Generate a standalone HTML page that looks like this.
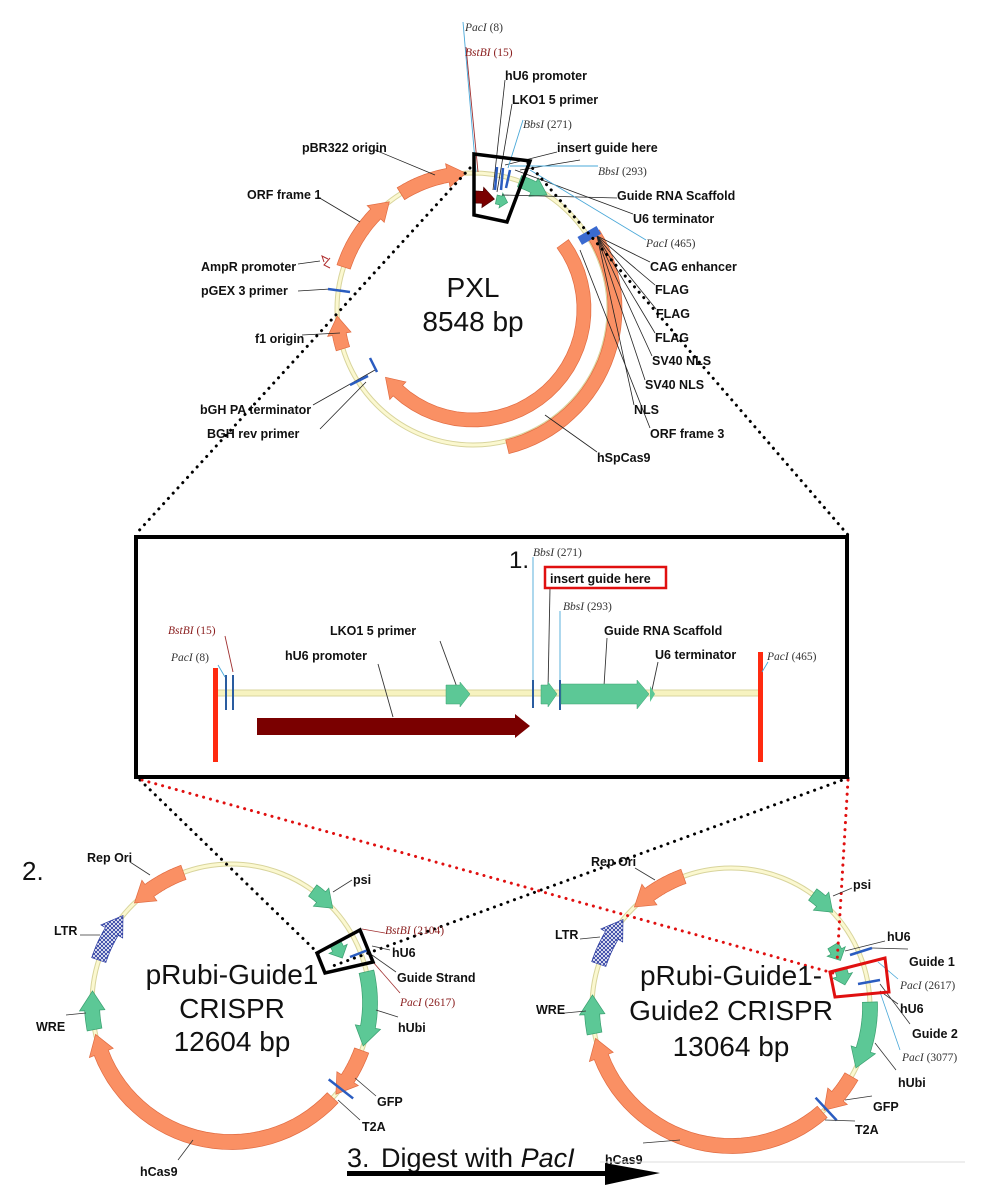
<!DOCTYPE html>
<html><head><meta charset="utf-8"><style>
html,body{margin:0;padding:0;background:#fff}
svg{display:block}
.b{font-family:"Liberation Sans",sans-serif;font-weight:bold;font-size:12.5px;fill:#111}
.e{font-family:"Liberation Serif",serif;font-size:11.5px;fill:#333}
.r{fill:#8b2020}
.big{font-family:"Liberation Sans",sans-serif;font-size:28px;fill:#111}
</style></head><body>
<svg id="s" width="995" height="1200" viewBox="0 0 995 1200" xmlns="http://www.w3.org/2000/svg">
<defs>
<pattern id="hatch" width="4" height="4" patternUnits="userSpaceOnUse">
<rect width="4" height="4" fill="#fff"/><path d="M0 0L4 4M4 0L0 4" stroke="#2a3aa0" stroke-width="0.9"/>
</pattern>
</defs>
<g id="shapes"></g>

<!-- PXL -->
<g stroke="#222" stroke-width="0.8" fill="none">
<line x1="375" y1="150" x2="435" y2="175"/><line x1="318" y1="197" x2="360" y2="222"/>
<line x1="298" y1="264" x2="320" y2="261"/><line x1="298" y1="291" x2="330" y2="289"/>
<line x1="302" y1="335" x2="340" y2="333"/><line x1="313" y1="405" x2="375" y2="370"/>
<line x1="320" y1="429" x2="366" y2="382"/>
<line x1="505" y1="80" x2="493" y2="190"/><line x1="512" y1="104" x2="497" y2="192"/>
<line x1="557" y1="152" x2="505" y2="165"/><line x1="617" y1="198" x2="502" y2="195"/>
<line x1="633" y1="214" x2="515" y2="170"/>
<line x1="597" y1="236" x2="650" y2="262"/><line x1="597" y1="236" x2="655" y2="285"/>
<line x1="597" y1="236" x2="656" y2="309"/><line x1="597" y1="236" x2="655" y2="333"/>
<line x1="597" y1="236" x2="652" y2="356"/><line x1="597" y1="236" x2="645" y2="380"/>
<line x1="597" y1="236" x2="634" y2="405"/><line x1="580" y1="250" x2="650" y2="428"/>
<line x1="597" y1="452" x2="545" y2="415"/><line x1="520" y1="170" x2="580" y2="160"/>
</g>
<g stroke="#4aa8d8" stroke-width="0.9"><line x1="463" y1="22" x2="476" y2="172"/><line x1="523" y1="120" x2="508" y2="168"/><line x1="598" y1="166" x2="510" y2="166"/><line x1="646" y1="240" x2="530" y2="170"/></g>
<line x1="466" y1="47" x2="478" y2="172" stroke="#a03030" stroke-width="0.9"/>
<g stroke="#2a5cc0" stroke-width="2.5"><line x1="497" y1="167" x2="495" y2="190"/><line x1="503" y1="168" x2="501" y2="190"/><line x1="510" y1="170" x2="506" y2="188"/><line x1="328" y1="289" x2="350" y2="292"/><line x1="370" y1="358" x2="377" y2="372"/><line x1="350" y1="385" x2="368" y2="376"/></g>
<rect x="578" y="231" width="22" height="9" fill="#3a6ad0" transform="rotate(-30 589 235)"/>
<path d="M330 258 L324 265 L330 268 M324 262 L322 256 L328 259" stroke="#b03030" fill="none" stroke-width="1"/>
<polygon points="474,154 530,161 507,222 474,215" fill="none" stroke="#000" stroke-width="3.5"/>
<text x="473" y="297" text-anchor="middle" class="big">PXL</text>
<text x="473" y="331" text-anchor="middle" class="big">8548 bp</text>
<text x="465" y="31" class="e"><tspan font-style="italic">PacI</tspan> (8)</text>
<text x="465" y="56" class="e r"><tspan font-style="italic">BstBI</tspan> (15)</text>
<text x="505" y="80" class="b">hU6 promoter</text>
<text x="512" y="104" class="b">LKO1 5 primer</text>
<text x="523" y="128" class="e"><tspan font-style="italic">BbsI</tspan> (271)</text>
<text x="557" y="152" class="b">insert guide here</text>
<text x="598" y="175" class="e"><tspan font-style="italic">BbsI</tspan> (293)</text>
<text x="617" y="200" class="b">Guide RNA Scaffold</text>
<text x="633" y="223" class="b">U6 terminator</text>
<text x="646" y="247" class="e"><tspan font-style="italic">PacI</tspan> (465)</text>
<text x="650" y="271" class="b">CAG enhancer</text>
<text x="655" y="294" class="b">FLAG</text>
<text x="656" y="318" class="b">FLAG</text>
<text x="655" y="342" class="b">FLAG</text>
<text x="652" y="365" class="b">SV40 NLS</text>
<text x="645" y="389" class="b">SV40 NLS</text>
<text x="634" y="414" class="b">NLS</text>
<text x="650" y="438" class="b">ORF frame 3</text>
<text x="597" y="462" class="b">hSpCas9</text>
<text x="302" y="152" class="b">pBR322 origin</text>
<text x="247" y="199" class="b">ORF frame 1</text>
<text x="201" y="271" class="b">AmpR promoter</text>
<text x="201" y="295" class="b">pGEX 3 primer</text>
<text x="255" y="343" class="b">f1 origin</text>
<text x="200" y="414" class="b">bGH PA terminator</text>
<text x="207" y="438" class="b">BGH rev primer</text>

<!-- dotted zoom lines -->
<g stroke="#000" stroke-width="3" stroke-dasharray="0.1 7" stroke-linecap="round" fill="none">
<line x1="470" y1="168" x2="135" y2="535"/><line x1="528" y1="163" x2="848" y2="535"/>
<line x1="140" y1="780" x2="322" y2="957"/><line x1="848" y1="778" x2="330" y2="967"/>
</g>
<g stroke="#e01010" stroke-width="3" stroke-dasharray="0.1 7" stroke-linecap="round" fill="none">
<line x1="142" y1="780" x2="833" y2="973"/><line x1="848" y1="780" x2="837" y2="963"/>
</g>

<!-- detail box -->
<rect x="136" y="537" width="711" height="240" fill="#fff" stroke="#000" stroke-width="4"/>
<rect x="215" y="690" width="545" height="6" fill="#f7f3c0" stroke="#d8d49c" stroke-width="1"/>
<rect x="213" y="668" width="5" height="94" fill="#ff2a10"/>
<rect x="758" y="652" width="5" height="110" fill="#ff2a10"/>
<g stroke="#2a5ca0" stroke-width="2"><line x1="226" y1="675" x2="226" y2="710"/><line x1="233" y1="675" x2="233" y2="710"/><line x1="533" y1="680" x2="533" y2="708"/><line x1="560" y1="680" x2="560" y2="710"/></g>
<g stroke="#4aa8d8" stroke-width="0.9"><line x1="533" y1="557" x2="533" y2="680"/><line x1="560" y1="611" x2="560" y2="680"/><line x1="218" y1="665" x2="225" y2="677"/><line x1="768" y1="662" x2="762" y2="672"/></g>
<line x1="225" y1="636" x2="233" y2="672" stroke="#a03030" stroke-width="0.9"/>
<g stroke="#333" stroke-width="0.9"><line x1="550" y1="588" x2="548" y2="690"/><line x1="607" y1="638" x2="604" y2="686"/><line x1="658" y1="662" x2="652" y2="690"/><line x1="440" y1="641" x2="458" y2="690"/><line x1="378" y1="664" x2="393" y2="717"/></g>
<polygon points="257,718 515,718 515,714 530,726 515,738 515,735 257,735" fill="#7a0000"/>
<polygon points="446,685 460,685 460,682 470,694 460,707 460,704 446,704" fill="#5cc896" stroke="#3aa070" stroke-width="0.5"/>
<polygon points="541,685 548,685 548,682 557,694 548,707 548,704 541,704" fill="#5cc896" stroke="#3aa070" stroke-width="0.5"/>
<polygon points="561,684 637,684 637,680 649,694 637,709 637,704 561,704" fill="#5cc896" stroke="#3aa070" stroke-width="0.5"/>
<polygon points="650,686 655,694 650,702" fill="#5cc896"/>
<text x="509" y="568" font-family="Liberation Sans,sans-serif" font-size="24" fill="#111">1.</text>
<rect x="545" y="567" width="121" height="21" fill="#fff" stroke="#e01010" stroke-width="2.5"/>
<text x="550" y="583" class="b" font-size="13">insert guide here</text>
<text x="533" y="556" class="e"><tspan font-style="italic">BbsI</tspan> (271)</text>
<text x="563" y="610" class="e"><tspan font-style="italic">BbsI</tspan> (293)</text>
<text x="604" y="635" class="b" font-size="13">Guide RNA Scaffold</text>
<text x="655" y="659" class="b" font-size="13">U6 terminator</text>
<text x="767" y="660" class="e"><tspan font-style="italic">PacI</tspan> (465)</text>
<text x="168" y="634" class="e r"><tspan font-style="italic">BstBI</tspan> (15)</text>
<text x="171" y="661" class="e"><tspan font-style="italic">PacI</tspan> (8)</text>
<text x="330" y="635" class="b" font-size="13">LKO1 5 primer</text>
<text x="285" y="660" class="b" font-size="13">hU6 promoter</text>

<!-- pRubi-Guide1 -->
<g stroke="#333" stroke-width="0.8">
<line x1="130" y1="862" x2="150" y2="875"/><line x1="352" y1="880" x2="333" y2="892"/>
<line x1="80" y1="935" x2="100" y2="935"/><line x1="66" y1="1015" x2="86" y2="1013"/>
<line x1="390" y1="950" x2="372" y2="946"/><line x1="396" y1="972" x2="372" y2="955"/>
<line x1="398" y1="1017" x2="376" y2="1010"/><line x1="376" y1="1096" x2="355" y2="1078"/>
<line x1="360" y1="1120" x2="338" y2="1100"/><line x1="178" y1="1160" x2="193" y2="1140"/>
</g>
<g stroke="#a03030" stroke-width="0.8"><line x1="385" y1="933" x2="362" y2="929"/><line x1="400" y1="993" x2="373" y2="962"/></g>
<line x1="350" y1="957" x2="368" y2="950" stroke="#2a5cc0" stroke-width="2.5"/>
<polygon points="317,953 360,930 373,962 325,973" fill="none" stroke="#000" stroke-width="3.5"/>
<text x="22" y="880" font-family="Liberation Sans,sans-serif" font-size="26" fill="#111">2.</text>
<text x="87" y="862" class="b">Rep Ori</text>
<text x="353" y="884" class="b">psi</text>
<text x="385" y="934" class="e r"><tspan font-style="italic">BstBI</tspan> (2104)</text>
<text x="392" y="957" class="b">hU6</text>
<text x="397" y="982" class="b">Guide Strand</text>
<text x="400" y="1006" class="e r"><tspan font-style="italic">PacI</tspan> (2617)</text>
<text x="398" y="1032" class="b">hUbi</text>
<text x="377" y="1106" class="b">GFP</text>
<text x="362" y="1131" class="b">T2A</text>
<text x="140" y="1176" class="b">hCas9</text>
<text x="54" y="935" class="b">LTR</text>
<text x="36" y="1031" class="b">WRE</text>
<text x="232" y="984" text-anchor="middle" class="big">pRubi-Guide1</text>
<text x="232" y="1018" text-anchor="middle" class="big">CRISPR</text>
<text x="232" y="1051" text-anchor="middle" class="big">12604 bp</text>

<!-- pRubi-Guide1-Guide2 -->
<g stroke="#333" stroke-width="0.8">
<line x1="635" y1="868" x2="655" y2="880"/><line x1="852" y1="888" x2="833" y2="896"/>
<line x1="580" y1="939" x2="600" y2="937"/><line x1="565" y1="1013" x2="586" y2="1011"/>
<line x1="885" y1="941" x2="845" y2="951"/><line x1="908" y1="949" x2="872" y2="948"/>
<line x1="898" y1="1004" x2="880" y2="991"/><line x1="910" y1="1024" x2="880" y2="984"/>
<line x1="896" y1="1070" x2="875" y2="1043"/><line x1="872" y1="1096" x2="845" y2="1100"/>
<line x1="855" y1="1121" x2="825" y2="1120"/><line x1="643" y1="1143" x2="680" y2="1140"/>
</g>
<g stroke="#4aa8d8" stroke-width="0.8"><line x1="898" y1="979" x2="878" y2="962"/><line x1="900" y1="1050" x2="880" y2="992"/></g>
<g stroke="#2a5cc0" stroke-width="2.5"><line x1="850" y1="955" x2="872" y2="948"/><line x1="858" y1="984" x2="880" y2="980"/></g>
<polygon points="830,972 885,958 889,992 835,997" fill="none" stroke="#e01010" stroke-width="3"/>
<text x="591" y="866" class="b">Rep Ori</text>
<text x="853" y="889" class="b">psi</text>
<text x="887" y="941" class="b">hU6</text>
<text x="909" y="966" class="b">Guide 1</text>
<text x="900" y="989" class="e"><tspan font-style="italic">PacI</tspan> (2617)</text>
<text x="900" y="1013" class="b">hU6</text>
<text x="912" y="1038" class="b">Guide 2</text>
<text x="902" y="1061" class="e"><tspan font-style="italic">PacI</tspan> (3077)</text>
<text x="898" y="1087" class="b">hUbi</text>
<text x="873" y="1111" class="b">GFP</text>
<text x="855" y="1134" class="b">T2A</text>
<text x="605" y="1164" class="b">hCas9</text>
<text x="555" y="939" class="b">LTR</text>
<text x="536" y="1014" class="b">WRE</text>
<text x="731" y="985" text-anchor="middle" class="big">pRubi-Guide1-</text>
<text x="731" y="1020" text-anchor="middle" class="big">Guide2 CRISPR</text>
<text x="731" y="1056" text-anchor="middle" class="big">13064 bp</text>

<!-- step 3 -->
<line x1="600" y1="1162" x2="965" y2="1162" stroke="#ddd" stroke-width="1"/>
<text x="347" y="1167" font-family="Liberation Sans,sans-serif" font-size="27" fill="#111">3.</text>
<text x="381" y="1167" font-family="Liberation Sans,sans-serif" font-size="27" fill="#111">Digest with <tspan font-style="italic">PacI</tspan></text>
<rect x="347" y="1171" width="262" height="5" fill="#000"/>
<polygon points="605,1163 660,1173 605,1185" fill="#000"/>
</svg>
<script>
(function(){
var g=document.getElementById('shapes'),NS='http://www.w3.org/2000/svg';
function P(cx,cy,r,a){var t=(a-90)*Math.PI/180;return [cx+r*Math.cos(t),cy+r*Math.sin(t)];}
function el(n,at){var e=document.createElementNS(NS,n);for(var k in at)e.setAttribute(k,at[k]);g.appendChild(e);return e;}
function ring(cx,cy,r){el('circle',{cx:cx,cy:cy,r:r,fill:'none',stroke:'#d8d49c','stroke-width':5});el('circle',{cx:cx,cy:cy,r:r,fill:'none',stroke:'#fbf8d0','stroke-width':3});}
function arrow(cx,cy,r,a0,a1,w,fill,stroke,head){
 var s=a1>a0?1:-1,hd=head===false?0:Math.min(Math.abs(a1-a0)*0.6,(w*1.3)/r*180/Math.PI)*s,ab=a1-hd,pts=[],n=30,i,p;
 for(i=0;i<=n;i++){p=P(cx,cy,r+w/2,a0+(ab-a0)*i/n);pts.push(p);}
 if(head!==false){pts.push(P(cx,cy,r+w/2+w*0.35,ab));pts.push(P(cx,cy,r,a1));pts.push(P(cx,cy,r-w/2-w*0.35,ab));}
 for(i=n;i>=0;i--){p=P(cx,cy,r-w/2,a0+(ab-a0)*i/n);pts.push(p);}
 el('polygon',{points:pts.map(function(q){return q[0].toFixed(1)+','+q[1].toFixed(1)}).join(' '),fill:fill,stroke:stroke,'stroke-width':0.7});
}
var O='#fa9064',OS='#e06a40',G='#5cc896',GS='#3aa070';
ring(473,309,136);
arrow(473,309,136,-32,-3,14,O,OS);
arrow(473,309,136,-72,-38,14,O,OS);
arrow(473,309,136,-107,-93,14,O,OS);
arrow(473,309,142,58,166,14,O,OS,false);
arrow(473,309,111,54,232,14,O,OS);
arrow(473,309,136,20,33,12,G,GS);
arrow(473,309,112,1,11,12,'#7a0000','#500000');
arrow(473,309,112,12,18,9,G,GS);
function rubi(cx,cy,two){
 ring(cx,cy,139);
 arrow(cx,cy,139,-20,-44,15,O,OS);
 arrow(cx,cy,139,-72,-51,15,'url(#hatch)','#2a3aa0');
 arrow(cx,cy,139,-101,-85,15,G,GS);
 arrow(cx,cy,139,two?139:133,257,15,O,OS);
 arrow(cx,cy,139,two?120:110,two?138:131,15,O,OS);
 arrow(cx,cy,139,two?88:77,two?116:108,15,G,GS);
 arrow(cx,cy,139,36,47,14,G,GS);
 if(two){arrow(cx,cy,119,59,67,12,G,GS);arrow(cx,cy,116,71,79,12,G,GS);}
 else arrow(cx,cy,120,60,68,12,G,GS);
 var ta=two?137:128,p1=P(cx,cy,124,ta),p2=P(cx,cy,155,ta);
 el('line',{x1:p1[0],y1:p1[1],x2:p2[0],y2:p2[1],stroke:'#2a5cc0','stroke-width':2.5});
}
rubi(231,1003,false);
rubi(731,1007,true);
})();
</script>
</body></html>
